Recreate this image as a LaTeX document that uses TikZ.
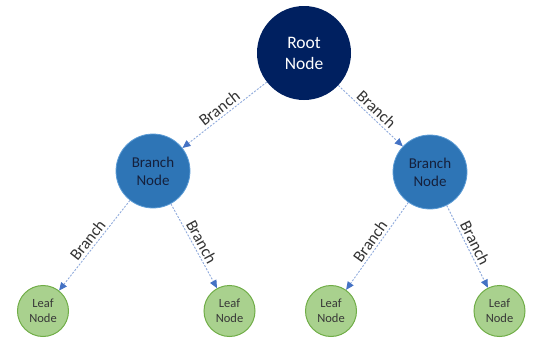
\documentclass[tikz,border=0pt]{standalone}
\usepackage{fontspec}
\setmainfont{Carlito}
\usetikzlibrary{arrows.meta}
\definecolor{rootblue}{HTML}{002060}
\definecolor{branchblue}{HTML}{2E75B6}
\definecolor{branchrim}{HTML}{5B9BD5}
\definecolor{branchtext}{HTML}{15203C}
\definecolor{leafgreen}{HTML}{A9D18E}
\definecolor{leafedge}{HTML}{70AD47}
\definecolor{linkblue}{HTML}{8FAADC}
\definecolor{tipblue}{HTML}{4472C4}
\definecolor{labelgray}{HTML}{333333}
\begin{document}
\begin{tikzpicture}[x=1pt,y=-1pt,
  rootnode/.style={circle, fill=rootblue, draw=none, minimum size=94pt,
    inner sep=0pt, align=center, text=white,
    font=\fontsize{17.5}{21}\selectfont},
  branchnode/.style={circle, fill=branchblue, draw=branchrim, line width=0.8pt,
    minimum size=74pt, inner sep=0pt, align=center, text=branchtext,
    font=\fontsize{15}{18}\selectfont},
  leafnode/.style={circle, fill=leafgreen, draw=leafedge, line width=1pt,
    minimum size=51pt, inner sep=0pt, align=center, text=black!78,
    font=\fontsize{12.5}{14.5}\selectfont},
  link/.style={draw=linkblue, line width=0.9pt, dash pattern=on 2pt off 1.5pt,
    -{Triangle[length=8pt,width=7pt,color=tipblue]}},
  linklabel/.style={sloped, above, inner sep=2.5pt, text=labelgray,
    font=\fontsize{16.5}{18}\selectfont}]
\useasboundingbox (0,0) rectangle (558,351);

% tree nodes
\node[rootnode]   (root) at (304,53)    {Root\\Node};
\node[branchnode] (bl)   at (153,171)   {Branch\\Node};
\node[branchnode] (br)   at (430,172)   {Branch\\Node};
\node[leafnode]   (l1)   at (43,311)    {Leaf\\Node};
\node[leafnode]   (l2)   at (229.5,311) {Leaf\\Node};
\node[leafnode]   (l3)   at (331,311)   {Leaf\\Node};
\node[leafnode]   (l4)   at (499.5,311) {Leaf\\Node};

% links
\draw[link] (root) -- node[linklabel] {Branch} (bl);
\draw[link] (root) -- node[linklabel] {Branch} (br);
\draw[link] (bl) -- node[linklabel] {Branch} (l1);
\draw[link] (bl) -- node[linklabel] {Branch} (l2);
\draw[link] (br) -- node[linklabel] {Branch} (l3);
\draw[link] (br) -- node[linklabel] {Branch} (l4);
\end{tikzpicture}
\end{document}
